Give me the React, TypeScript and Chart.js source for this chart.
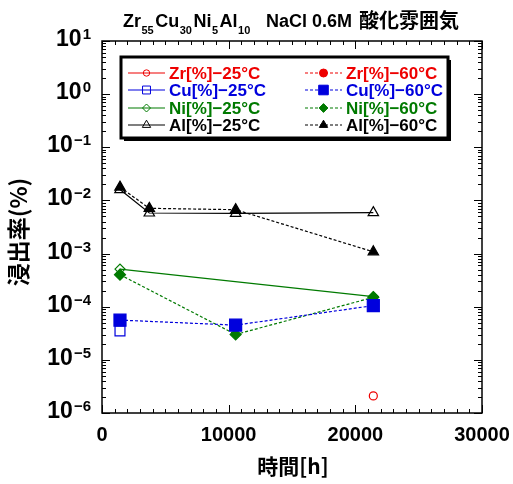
import React, { useEffect, useRef } from 'react';
import { Chart, registerables } from 'chart.js';
import { drawPoint } from 'chart.js/helpers';
Chart.register(...registerables);

// ---- data ----
const hours = [1420, 3735, 10550, 21420];
const zr25 = [null, null, null, 2.1e-6];
const cu25 = [3.5e-5, null, null, null];
const ni25 = [5.1e-4, null, null, 1.55e-4];
const al25 = [0.016, 0.0058, 0.0057, 0.0059];
const zr60 = [null, null, null, null];
const cu60 = [5.6e-5, null, 4.5e-5, 1.05e-4];
const ni60 = [4.0e-4, null, 3.0e-5, 1.5e-4];
const al60 = [0.0178, 0.0071, 0.0067, 0.00108];

const xTickLabels = [0, 10000, 20000, 30000];
const yExponents = [1, 0, -1, -2, -3, -4, -5, -6];
const xMin = 0, xMax = 30000, xMinorStep = 1000, xMajorStep = 10000;
const yMin = 1e-6, yMax = 10;

const titleParts = [
  { t: 'Zr', sub: false }, { t: '55', sub: true },
  { t: 'Cu', sub: false }, { t: '30', sub: true },
  { t: 'Ni', sub: false }, { t: '5', sub: true },
  { t: 'Al', sub: false }, { t: '10', sub: true },
];
const titleMid = 'NaCl 0.6M';
const titleJa = '酸化雰囲気';
const yTitle = '浸出率(%)';
const xTitle = '時間[h]';

const RED = '#ee0000', BLUE = '#0000dd', GREEN = '#007a00', BLACK = '#000000';

type S = { label: string; values: (number | null)[]; color: string; style: string; filled: boolean; dashed: boolean; r: number; };
const series: S[] = [
  { label: 'Zr[%]\u221225°C', values: zr25, color: RED, style: 'circle', filled: false, dashed: false, r: 4 },
  { label: 'Cu[%]\u221225°C', values: cu25, color: BLUE, style: 'rect', filled: false, dashed: false, r: 7 },
  { label: 'Ni[%]\u221225°C', values: ni25, color: GREEN, style: 'rectRot', filled: false, dashed: false, r: 5 },
  { label: 'Al[%]\u221225°C', values: al25, color: BLACK, style: 'triangle', filled: false, dashed: false, r: 6 },
  { label: 'Zr[%]\u221260°C', values: zr60, color: RED, style: 'circle', filled: true, dashed: true, r: 5 },
  { label: 'Cu[%]\u221260°C', values: cu60, color: BLUE, style: 'rect', filled: true, dashed: true, r: 8.5 },
  { label: 'Ni[%]\u221260°C', values: ni60, color: GREEN, style: 'rectRot', filled: true, dashed: true, r: 5.5 },
  { label: 'Al[%]\u221260°C', values: al60, color: BLACK, style: 'triangle', filled: true, dashed: true, r: 6 },
];

const SANS = '"Liberation Sans", Arial, sans-serif';
const JA = '"Noto Sans CJK JP", sans-serif';

const decor = {
  id: 'decor',
  afterDraw(chart: any) {
    const ctx: CanvasRenderingContext2D = chart.ctx;
    const xs = chart.scales.x, ys = chart.scales.y;
    const { left, right, top, bottom } = chart.chartArea;
    ctx.save();
    ctx.strokeStyle = '#000';
    ctx.lineWidth = 1.5;
    ctx.setLineDash([]);
    ctx.strokeRect(left, top, right - left, bottom - top);
    ctx.lineWidth = 1;
    const seg = (x1: number, y1: number, x2: number, y2: number) => {
      ctx.beginPath(); ctx.moveTo(x1, y1); ctx.lineTo(x2, y2); ctx.stroke();
    };
    for (let v = xMin; v <= xMax; v += xMinorStep) {
      const px = Math.round(xs.getPixelForValue(v)) + 0.5;
      const len = v % xMajorStep === 0 ? 8 : 4;
      seg(px, bottom, px, bottom - len);
      seg(px, top, px, top + len);
    }
    for (let e = -6; e <= 1; e++) {
      for (let m = 1; m <= 9; m++) {
        const v = m * Math.pow(10, e);
        if (v > yMax * 1.0001) break;
        const py = Math.round(ys.getPixelForValue(v)) + 0.5;
        const len = m === 1 ? 8 : 4;
        seg(left, py, left + len, py);
        seg(right, py, right - len, py);
      }
    }
    // x tick labels
    ctx.fillStyle = '#000';
    ctx.font = `bold 20px ${SANS}`;
    ctx.textAlign = 'center';
    ctx.textBaseline = 'alphabetic';
    xTickLabels.forEach((v) => {
      ctx.fillText(String(v), xs.getPixelForValue(v), 441);
    });
    // y tick labels 10^n
    yExponents.forEach((e) => {
      const py = ys.getPixelForValue(Math.pow(10, e));
      const exp = e < 0 ? '\u2212' + Math.abs(e) : String(e);
      ctx.font = `bold 15px ${SANS}`;
      ctx.textAlign = 'right';
      ctx.fillText(exp, 91, py - 2);
      const ew = ctx.measureText(exp).width;
      ctx.font = `bold 23px ${SANS}`;
      ctx.fillText('10', 91 - ew - 1, py + 5);
    });
    // axis titles
    ctx.font = `bold 21px ${JA}`;
    ctx.textAlign = 'center';
    ctx.textBaseline = 'middle';
    ctx.fillText(xTitle, 293, 466);
    ctx.save();
    ctx.font = `bold 23px ${JA}`;
    ctx.translate(18, 232);
    ctx.rotate(-Math.PI / 2);
    ctx.fillText(yTitle, 0, 0);
    ctx.restore();
    // title
    ctx.textAlign = 'left';
    ctx.textBaseline = 'alphabetic';
    let tx = 123;
    titleParts.forEach((p) => {
      ctx.font = p.sub ? `bold 11px ${SANS}` : `bold 18px ${SANS}`;
      ctx.fillText(p.t, tx, p.sub ? 34 : 27);
      tx += ctx.measureText(p.t).width + (p.sub ? 1.5 : 0.5);
    });
    ctx.font = `bold 18px ${SANS}`;
    ctx.fillText(titleMid, 266, 27);
    ctx.font = `bold 20px ${JA}`;
    ctx.fillText(titleJa, 359, 28);
    // legend box
    const bx = 121, by = 57, bw = 327, bh = 81;
    ctx.fillStyle = '#000';
    ctx.fillRect(bx + 3, by + 3, bw, bh);
    ctx.fillStyle = '#fff';
    ctx.fillRect(bx, by, bw, bh);
    ctx.strokeStyle = '#000';
    ctx.lineWidth = 3;
    ctx.strokeRect(bx, by, bw, bh);
    const rowsY = [73, 90, 108, 125];
    series.forEach((s, i) => {
      const col = i < 4 ? 0 : 1;
      const row = i % 4;
      const x0 = col === 0 ? 128 : 305;
      const x1 = x0 + 37;
      const y = rowsY[row];
      ctx.strokeStyle = s.color;
      ctx.lineWidth = 1.2;
      ctx.setLineDash(s.dashed ? [3, 2] : []);
      seg(x0, y, x1, y);
      ctx.setLineDash([]);
      ctx.fillStyle = s.filled ? s.color : 'rgba(0,0,0,0)';
      ctx.lineWidth = 1;
      drawPoint(ctx, { pointStyle: s.style as any, radius: s.r * 0.8, rotation: 0, borderWidth: 1 }, (x0 + x1) / 2, y);
      ctx.fillStyle = s.color;
      ctx.font = `bold 17px ${SANS}`;
      ctx.textAlign = 'left';
      ctx.textBaseline = 'middle';
      ctx.fillText(s.label, x1 + 4, y + 1);
    });
    ctx.restore();
  },
};

export default function App() {
  const ref = useRef<HTMLCanvasElement>(null);
  useEffect(() => {
    if (!ref.current) return;
    const datasets = series.map((s) => ({
      label: s.label,
      data: hours.map((h, i) => ({ x: h, y: s.values[i] })),
      borderColor: s.color,
      backgroundColor: s.filled ? s.color : 'rgba(0,0,0,0)',
      pointBackgroundColor: s.filled ? s.color : 'rgba(0,0,0,0)',
      pointBorderColor: s.color,
      pointStyle: s.style,
      pointRadius: s.r,
      pointBorderWidth: 1.2,
      borderWidth: 1.2,
      borderDash: s.dashed ? [3, 2] : [],
      spanGaps: true,
      tension: 0,
      fill: false,
      order: s.dashed ? 0 : 1,
    }));
    const chart = new Chart(ref.current, {
      type: 'line',
      data: { datasets: datasets as any },
      options: {
        responsive: false,
        animation: false,
        events: [],
        layout: { padding: { left: 102, right: 31, top: 41, bottom: 71 } },
        plugins: { legend: { display: false }, tooltip: { enabled: false }, title: { display: false } },
        scales: {
          x: { type: 'linear', min: xMin, max: xMax, display: false },
          y: { type: 'logarithmic', min: yMin, max: yMax, display: false },
        },
      },
      plugins: [decor],
    });
    return () => chart.destroy();
  }, []);
  return (
    <div style={{ position: 'fixed', left: 0, top: 0, width: 513, height: 484, background: '#fff' }}>
      <canvas ref={ref} width={513} height={484} style={{ width: 513, height: 484, display: 'block' }} />
    </div>
  );
}
